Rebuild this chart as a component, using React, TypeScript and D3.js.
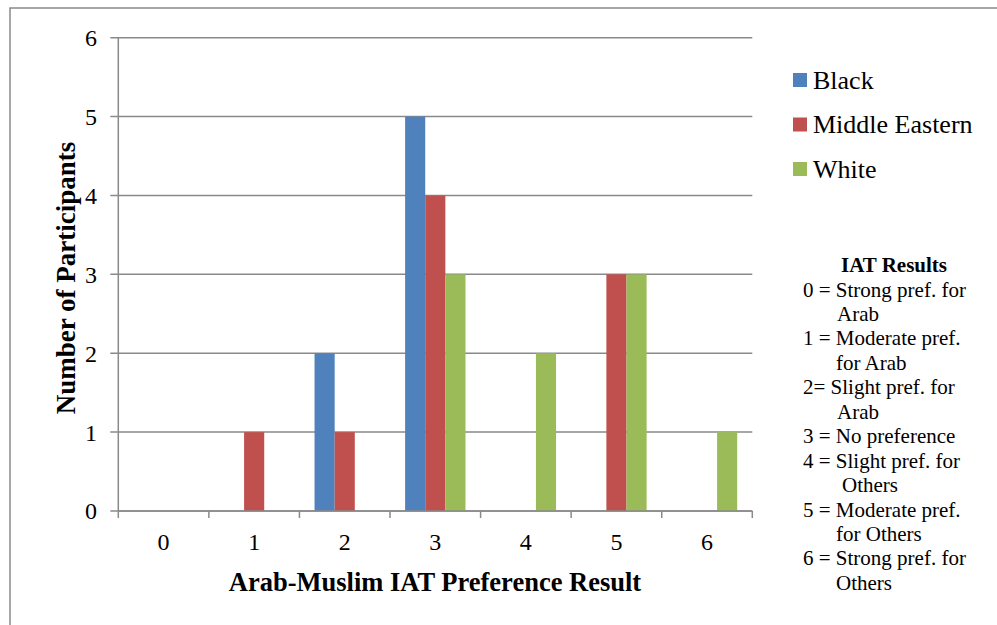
import React from "react";
import * as d3 from "d3";

// IAT preference scores on the x axis
const categories = ["0", "1", "2", "3", "4", "5", "6"];
const seriesNames = ["Black", "Middle Eastern", "White"];
const blackCounts = [0, 0, 2, 5, 0, 0, 0];
const middleEasternCounts = [0, 1, 1, 4, 0, 3, 0];
const whiteCounts = [0, 0, 0, 3, 2, 3, 1];
const yTicks = [0, 1, 2, 3, 4, 5, 6];
const keyTitle = "IAT Results";
const keyLines = [
  { text: "0 = Strong pref. for", indent: 0 },
  { text: "Arab", indent: 34 },
  { text: "1 = Moderate pref.", indent: 0 },
  { text: "for Arab", indent: 33 },
  { text: "2= Slight pref. for", indent: 0 },
  { text: "Arab", indent: 34 },
  { text: "3 = No preference", indent: 0 },
  { text: "4 = Slight pref. for", indent: 0 },
  { text: "Others", indent: 39 },
  { text: "5 = Moderate pref.", indent: 0 },
  { text: "for Others", indent: 33 },
  { text: "6 = Strong pref. for", indent: 0 },
  { text: "Others", indent: 33 },
];

const colors = ["#4F81BD", "#C0504D", "#9BBB59"];
const seriesValues = [blackCounts, middleEasternCounts, whiteCounts];

const W = 997;
const H = 625;
const plot = { left: 118.3, right: 752.3, top: 37.7, bottom: 511 };
const FONT = '"Liberation Serif", "Times New Roman", Tinos, serif';
const GRID = "#8a8a8a";

export default function App() {
  const x = d3
    .scaleBand<string>()
    .domain(categories)
    .range([plot.left, plot.right])
    .paddingInner(0)
    .paddingOuter(0);
  const bw = x.bandwidth();
  // clustered columns with a 150% gap between groups
  const barW = bw / (seriesNames.length + 1.5);
  const groupOffset = (bw - barW * seriesNames.length) / 2;
  const y = d3.scaleLinear().domain([0, 6]).range([plot.bottom, plot.top]);

  const boundaries = d3.range(categories.length + 1).map((i) => plot.left + i * bw);

  return (
    <svg
      width={W}
      height={H}
      style={{ position: "absolute", left: 0, top: 0, background: "#fff", fontFamily: FONT }}
    >
      <rect x={0} y={0} width={W} height={H} fill="#fff" />
      {/* outer chart frame */}
      <rect x={10} y={8} width={W + 20} height={H + 20} fill="none" stroke={GRID} strokeWidth={1.5} />

      {/* gridlines and y ticks */}
      {yTicks.map((t) => (
        <g key={"gy" + t}>
          <line x1={plot.left - 8} x2={plot.right} y1={y(t)} y2={y(t)} stroke={GRID} strokeWidth={1.5} />
          <text x={97} y={y(t)} dy="0.35em" textAnchor="end" fontSize={24} fill="#000">
            {t}
          </text>
        </g>
      ))}
      {/* y axis line */}
      <line x1={plot.left} x2={plot.left} y1={plot.top} y2={plot.bottom} stroke={GRID} strokeWidth={1.5} />

      {/* bars */}
      {seriesValues.map((vals, si) =>
        vals.map((v, ci) =>
          v > 0 ? (
            <rect
              key={`b${si}-${ci}`}
              x={(x(categories[ci]) as number) + groupOffset + si * barW}
              y={y(v)}
              width={barW}
              height={y(0) - y(v)}
              fill={colors[si]}
            />
          ) : null
        )
      )}

      {/* x axis line and ticks */}
      <line x1={plot.left} x2={plot.right} y1={plot.bottom} y2={plot.bottom} stroke={GRID} strokeWidth={1.5} />
      {boundaries.map((bx, i) => (
        <line key={"tx" + i} x1={bx} x2={bx} y1={plot.bottom} y2={plot.bottom + 7} stroke={GRID} strokeWidth={1.5} />
      ))}
      {categories.map((c) => (
        <text key={"lx" + c} x={(x(c) as number) + bw / 2} y={550} textAnchor="middle" fontSize={24} fill="#000">
          {c}
        </text>
      ))}

      {/* axis titles */}
      <text x={435} y={591} textAnchor="middle" fontSize={26.5} fontWeight="bold" fill="#000">
        Arab-Muslim IAT Preference Result
      </text>
      <text
        transform="translate(75,278) rotate(-90)"
        textAnchor="middle"
        fontSize={27}
        fontWeight="bold"
        fill="#000"
      >
        Number of Participants
      </text>

      {/* series legend */}
      {seriesNames.map((name, i) => {
        const cy = 80 + i * 44.5;
        return (
          <g key={"lg" + name}>
            <rect x={793} y={cy - 7} width={14} height={14} fill={colors[i]} />
            <text x={813} y={cy} dy="0.33em" fontSize={26} fill="#000">
              {name}
            </text>
          </g>
        );
      })}

      {/* score key */}
      <text x={894} y={272} textAnchor="middle" fontSize={21} fontWeight="bold" fill="#000">
        {keyTitle}
      </text>
      {keyLines.map((l, i) => (
        <text key={"k" + i} x={803 + l.indent} y={296.5 + i * 24.45} fontSize={21} fill="#000">
          {l.text}
        </text>
      ))}
    </svg>
  );
}
